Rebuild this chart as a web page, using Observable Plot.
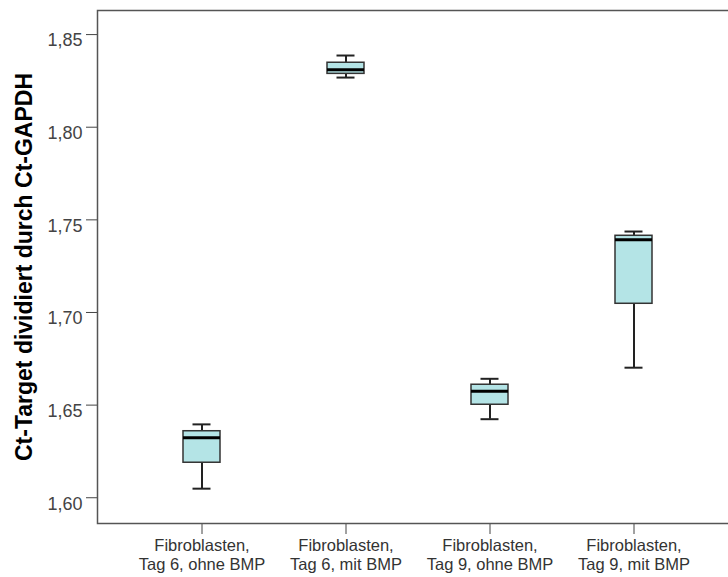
<!DOCTYPE html>
<html>
<head>
<meta charset="utf-8">
<script src="https://cdn.jsdelivr.net/npm/d3@7"></script>
<script src="https://cdn.jsdelivr.net/npm/@observablehq/plot@0.6"></script>
<style>
  html, body { margin: 0; padding: 0; background: white; }
</style>
</head>
<body>
<div id="chart"></div>
<script>
// Categories (x axis)
const categories = ["Tag 6, ohne BMP", "Tag 6, mit BMP", "Tag 9, ohne BMP", "Tag 9, mit BMP"];
const labelPrefix = "Fibroblasten,";
// Box statistics
const lowerWhisker = [1.6049, 1.8268, 1.6424, 1.6702];
const q1           = [1.6189, 1.8288, 1.6502, 1.7047];
const median       = [1.6324, 1.8310, 1.6575, 1.7392];
const q3           = [1.6359, 1.8348, 1.6610, 1.7414];
const upperWhisker = [1.6396, 1.8387, 1.6642, 1.7437];
// Y ticks
const yTicks = [1.60, 1.65, 1.70, 1.75, 1.80, 1.85];
const yTitle = "Ct-Target dividiert durch Ct-GAPDH";

const rows = categories.map((c, i) => ({
  cat: c, lo: lowerWhisker[i], q1: q1[i], med: median[i], q3: q3[i], hi: upperWhisker[i]
}));

const font = "'Liberation Sans', Arial, sans-serif";

const chart = Plot.plot({
  width: 728,
  height: 577,
  marginLeft: 97,
  marginRight: -10,
  marginTop: 10,
  marginBottom: 54,
  style: { fontFamily: font, background: "white", color: "#444" },
  x: {
    domain: categories,
    paddingInner: 0.744,
    paddingOuter: 0.59,
    align: 0.5,
    axis: "bottom",
    tickSize: 11,
    tickFormat: () => "",
    label: null
  },
  y: {
    domain: [1.5861, 1.8630],
    ticks: yTicks,
    tickSize: 11,
    tickFormat: () => "",
    label: null
  },
  marks: [
    Plot.frame({ stroke: "#555", strokeWidth: 1.5 }),
    Plot.ruleX(rows, { x: "cat", y1: "lo", y2: "hi", stroke: "#222", strokeWidth: 2 }),
    Plot.barY(rows, { x: "cat", y1: "q1", y2: "q3", fill: "#b4e4e6", stroke: "#333", strokeWidth: 1.5 }),
    Plot.tickY(rows, { x: "cat", y: "med", stroke: "#000", strokeWidth: 3 }),
    Plot.tickY(rows, { x: "cat", y: "hi", stroke: "#222", strokeWidth: 2, insetLeft: 9.5, insetRight: 9.5 }),
    Plot.tickY(rows, { x: "cat", y: "lo", stroke: "#222", strokeWidth: 2, insetLeft: 9.5, insetRight: 9.5 }),
    Plot.text(yTicks, {
      y: d => d,
      text: d => d.toFixed(2).replace(".", ","),
      frameAnchor: "left",
      textAnchor: "end",
      dx: -15,
      dy: 6,
      fontSize: 18,
      fill: "#444"
    }),
    Plot.text(categories, {
      x: d => d,
      text: () => labelPrefix,
      frameAnchor: "bottom",
      textAnchor: "middle",
      dy: 27.5,
      fontSize: 16.5,
      fill: "#333"
    }),
    Plot.text(categories, {
      x: d => d,
      text: d => d,
      frameAnchor: "bottom",
      textAnchor: "middle",
      dy: 46.3,
      fontSize: 16.5,
      fill: "#333"
    }),
    Plot.text([yTitle], {
      text: d => d,
      frameAnchor: "left",
      textAnchor: "middle",
      rotate: -90,
      dx: -73,
      fontSize: 23,
      fontWeight: "bold",
      fill: "#000"
    })
  ]
});

document.getElementById("chart").appendChild(chart);
</script>
</body>
</html>
